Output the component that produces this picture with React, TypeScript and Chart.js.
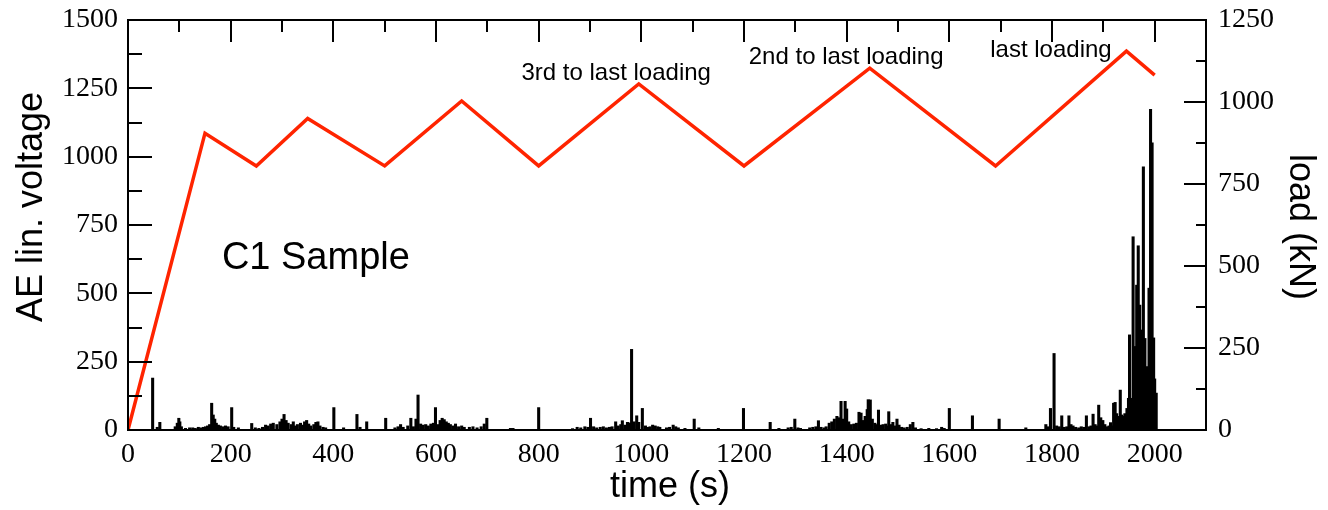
import React, { useEffect, useRef } from "react";
import { Chart, registerables } from "chart.js";

Chart.register(...registerables);

// Load (kN) on right axis
const loadTimes = [0, 150, 250, 350, 500, 650, 800, 995, 1200, 1445, 1690, 1945, 2000];
const loadKN = [0, 905, 805, 950, 805, 1003, 805, 1055, 805, 1103, 805, 1155, 1082];

// AE lin. voltage bars (left axis)
const aeTimes = [
  48, 57, 62, 92, 96, 99, 101, 104, 112, 120, 126, 131, 137, 142, 147, 151, 155, 159, 163, 166,
  169, 172, 176, 180, 185, 190, 195, 202, 206, 215, 241, 248, 255, 262, 268, 273, 278, 283, 290, 296,
  300, 304, 308, 312, 318, 322, 326, 330, 336, 340, 344, 348, 352, 356, 362, 366, 370, 374, 380, 385,
  401, 420, 446, 452, 465, 502, 520, 526, 531, 536, 545, 551, 556, 561, 565, 570, 575, 580, 585, 590,
  595, 599, 604, 608, 612, 616, 620, 624, 628, 633, 638, 644, 650, 655, 665, 672, 680, 688, 694, 699,
  745, 750, 800, 866, 875, 882, 890, 896, 901, 907, 913, 920, 926, 932, 938, 943, 950, 955, 960, 963,
  968, 973, 977, 981, 986, 991, 995, 1002, 1008, 1012, 1017, 1022, 1027, 1032, 1036, 1049, 1055, 1062, 1067, 1072,
  1085, 1103, 1112, 1150, 1199, 1251, 1268, 1286, 1292, 1299, 1305, 1310, 1328, 1334, 1340, 1345, 1350, 1356, 1360, 1366,
  1371, 1376, 1381, 1385, 1389, 1393, 1397, 1400, 1404, 1409, 1414, 1419, 1424, 1428, 1432, 1436, 1440, 1442, 1446, 1450,
  1455, 1458, 1462, 1466, 1471, 1476, 1480, 1482, 1486, 1490, 1494, 1498, 1502, 1507, 1512, 1518, 1524, 1529, 1534, 1545,
  1560, 1575, 1585, 1590, 1600, 1645, 1697, 1749, 1788, 1792, 1797, 1804, 1809, 1814, 1819, 1824, 1829, 1833, 1837, 1841,
  1846, 1852, 1857, 1862, 1867, 1872, 1876, 1880, 1884, 1888, 1891, 1895, 1899, 1903, 1907, 1911, 1914, 1917, 1920, 1923,
  1926, 1929, 1933, 1936, 1939, 1942, 1946, 1949, 1951, 1954, 1958, 1961, 1963, 1965, 1968, 1971, 1974, 1978, 1981, 1984,
  1987, 1989, 1992, 1995, 1998, 2000, 2003,
];
const aeVoltage = [
  190, 10, 28, 12, 25, 43, 30, 12, 6, 8, 8, 6, 10, 8, 10, 12, 15, 20, 98, 55,
  40, 25, 18, 15, 12, 15, 12, 82, 10, 8, 24, 8, 6, 10, 18, 15, 22, 25, 20, 30,
  40, 57, 35, 25, 20, 30, 15, 20, 25, 18, 30, 35, 22, 15, 20, 28, 30, 15, 10, 8,
  82, 8, 57, 10, 30, 43, 8, 12, 20, 10, 15, 43, 12, 40, 128, 22, 18, 20, 15, 22,
  25, 82, 20, 35, 43, 38, 30, 25, 20, 15, 22, 12, 15, 10, 10, 12, 8, 12, 22, 43,
  6, 6, 82, 5, 10, 8, 12, 10, 43, 12, 8, 10, 12, 8, 10, 12, 30, 15, 20, 34,
  18, 28, 26, 295, 30, 52, 28, 79, 15, 10, 12, 18, 15, 12, 10, 8, 10, 18, 12, 8,
  6, 40, 8, 6, 79, 28, 6, 8, 10, 40, 8, 6, 8, 10, 12, 34, 10, 8, 12, 25,
  30, 40, 50, 45, 105, 40, 105, 77, 30, 20, 22, 25, 65, 62, 35, 50, 75, 111, 110, 40,
  25, 20, 73, 18, 20, 22, 15, 67, 20, 28, 15, 40, 18, 10, 8, 10, 20, 28, 8, 5,
  6, 5, 10, 6, 79, 52, 40, 8, 20, 12, 79, 280, 15, 12, 52, 10, 12, 52, 20, 15,
  10, 8, 12, 10, 52, 12, 15, 58, 20, 15, 91, 45, 35, 20, 12, 15, 27, 15, 98, 101,
  60, 50, 146, 55, 50, 60, 79, 116, 348, 116, 707, 305, 305, 530, 674, 457, 366, 963, 335, 232,
  230, 519, 1173, 1051, 337, 187, 135,
];

// Axis ticks
const xTickValues = [0, 200, 400, 600, 800, 1000, 1200, 1400, 1600, 1800, 2000];
const xMinorTicks = [100, 300, 500, 700, 900, 1100, 1300, 1500, 1700, 1900];
const yLeftTicks = [0, 250, 500, 750, 1000, 1250, 1500];
const yLeftMinor = [125, 375, 625, 875, 1125, 1375];
const yRightTicks = [0, 250, 500, 750, 1000, 1250];
const yRightMinor = [125, 375, 625, 875, 1125];

// Text annotations placed in data coordinates (time, AE voltage)
const noteLabels = ["3rd to last loading", "2nd to last loading", "last loading", "C1 Sample"];
const noteTimes = [951, 1399, 1798, 366];
const noteVoltages = [1306, 1365, 1390, 629];
const noteSizes = [24, 24, 24, 38];

const RED = "rgb(255,36,0)";

const framePlugin = {
  id: "frameTicks",
  afterDatasetsDraw(chart: any) {
    const { ctx, chartArea: a, scales } = chart;
    ctx.save();
    ctx.strokeStyle = "#000";
    ctx.lineWidth = 2;
    ctx.strokeRect(a.left, a.top, a.right - a.left, a.bottom - a.top);
    ctx.beginPath();
    const yl = scales.y;
    const yr = scales.y2;
    const x = scales.x;
    yLeftTicks.forEach((v) => {
      const p = Math.round(yl.getPixelForValue(v));
      ctx.moveTo(a.left, p);
      ctx.lineTo(a.left + 24, p);
    });
    yLeftMinor.forEach((v) => {
      const p = Math.round(yl.getPixelForValue(v));
      ctx.moveTo(a.left, p);
      ctx.lineTo(a.left + 14, p);
    });
    yRightTicks.forEach((v) => {
      const p = Math.round(yr.getPixelForValue(v));
      ctx.moveTo(a.right, p);
      ctx.lineTo(a.right - 22, p);
    });
    yRightMinor.forEach((v) => {
      const p = Math.round(yr.getPixelForValue(v));
      ctx.moveTo(a.right, p);
      ctx.lineTo(a.right - 10, p);
    });
    xTickValues.forEach((v) => {
      const p = Math.round(x.getPixelForValue(v));
      ctx.moveTo(p, a.top);
      ctx.lineTo(p, a.top + 22);
    });
    xMinorTicks.forEach((v) => {
      const p = Math.round(x.getPixelForValue(v));
      ctx.moveTo(p, a.top);
      ctx.lineTo(p, a.top + 12);
    });
    ctx.stroke();

    // annotations
    ctx.fillStyle = "#000";
    ctx.textAlign = "center";
    ctx.textBaseline = "middle";
    noteLabels.forEach((t, i) => {
      ctx.font = `${noteSizes[i]}px "Liberation Sans", Arial, sans-serif`;
      ctx.fillText(t, x.getPixelForValue(noteTimes[i]), yl.getPixelForValue(noteVoltages[i]));
    });

    // axis titles
    ctx.font = `36px "Liberation Sans", Arial, sans-serif`;
    ctx.fillText("time (s)", 670, 487);
    ctx.save();
    ctx.translate(32, 207);
    ctx.rotate(-Math.PI / 2);
    ctx.fillText("AE lin. voltage", 0, 0);
    ctx.restore();
    ctx.save();
    ctx.translate(1300, 227);
    ctx.rotate(Math.PI / 2);
    ctx.fillText("load (kN)", 0, 0);
    ctx.restore();
    ctx.restore();
  },
};

const plain = (v: any) => String(v);

export default function App() {
  const ref = useRef<HTMLCanvasElement | null>(null);
  useEffect(() => {
    if (!ref.current) return;
    const tickFont = { family: '"Liberation Serif", "Times New Roman", serif', size: 28 };
    const fitV = (w: number) => (axis: any) => {
      axis.width = w;
      axis.paddingTop = 0;
      axis.paddingBottom = 0;
    };
    const chart = new Chart(ref.current, {
      type: "bar",
      data: {
        datasets: [
          {
            type: "line",
            label: "load",
            data: loadTimes.map((t, i) => ({ x: t, y: loadKN[i] })),
            yAxisID: "y2",
            borderColor: RED,
            borderWidth: 3.5,
            pointRadius: 0,
            fill: false,
            tension: 0,
            order: 0,
          } as any,
          {
            type: "bar",
            label: "AE",
            data: aeTimes.map((t, i) => ({ x: t, y: aeVoltage[i] })),
            yAxisID: "y",
            backgroundColor: "#000",
            borderWidth: 0,
            barThickness: 2.4,
            order: 1,
          } as any,
        ],
      },
      options: {
        responsive: false,
        animation: false,
        devicePixelRatio: 1,
        layout: { padding: { top: 20, left: 0, right: 0, bottom: 0 } },
        plugins: { legend: { display: false }, tooltip: { enabled: false } },
        scales: {
          x: {
            type: "linear",
            position: "bottom",
            min: 0,
            max: 2100,
            offset: false,
            grid: { display: false, drawTicks: false },
            border: { display: false },
            afterBuildTicks: (axis: any) => {
              axis.ticks = xTickValues.map((v) => ({ value: v }));
            },
            afterFit: (axis: any) => {
              axis.height = 80;
              axis.paddingLeft = 0;
              axis.paddingRight = 0;
            },
            ticks: { font: tickFont, color: "#000", padding: 8, maxRotation: 0, autoSkip: false, callback: plain },
          },
          y: {
            type: "linear",
            position: "left",
            min: 0,
            max: 1500,
            grid: { display: false, drawTicks: false },
            border: { display: false },
            afterBuildTicks: (axis: any) => {
              axis.ticks = yLeftTicks.map((v) => ({ value: v }));
            },
            afterFit: fitV(128),
            ticks: { font: tickFont, color: "#000", padding: 10, autoSkip: false, callback: plain },
          },
          y2: {
            type: "linear",
            position: "right",
            min: 0,
            max: 1250,
            grid: { display: false, drawTicks: false },
            border: { display: false },
            afterBuildTicks: (axis: any) => {
              axis.ticks = yRightTicks.map((v) => ({ value: v }));
            },
            afterFit: fitV(122),
            ticks: { font: tickFont, color: "#000", padding: 12, autoSkip: false, callback: plain },
          },
        },
      } as any,
      plugins: [framePlugin],
    });
    return () => chart.destroy();
  }, []);
  return (
    <div style={{ position: "fixed", left: 0, top: 0, width: 1328, height: 510, background: "#fff" }}>
      <canvas ref={ref} width={1328} height={510} style={{ display: "block" }} />
    </div>
  );
}
